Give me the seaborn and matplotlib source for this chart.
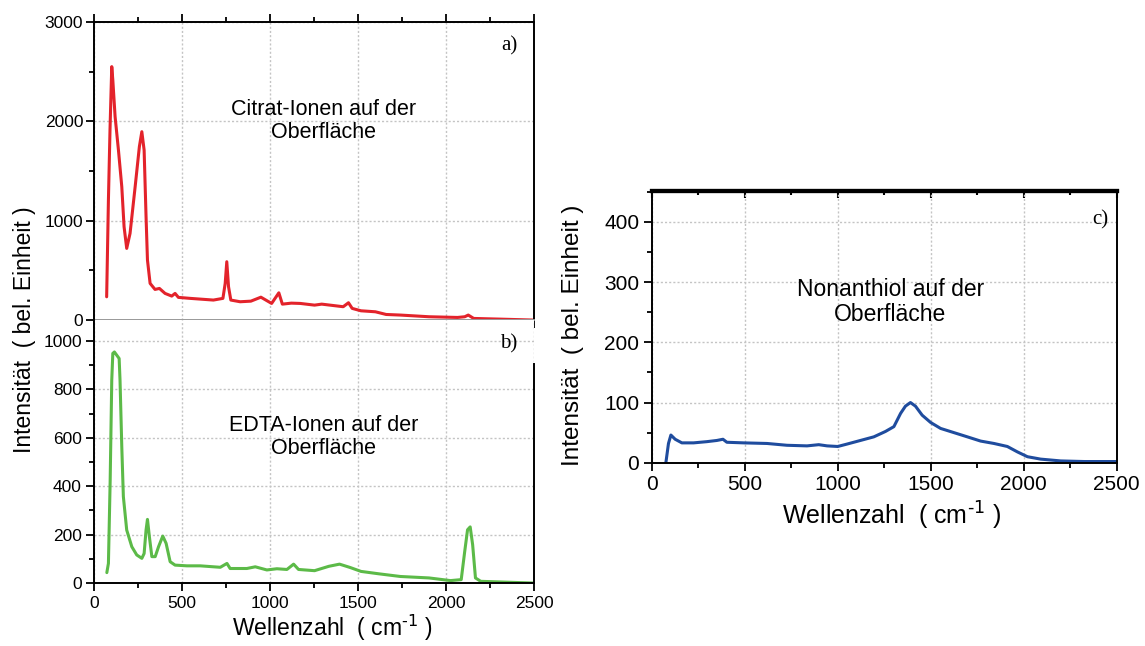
import numpy as np
import pandas as pd
import matplotlib
matplotlib.use("Agg")
import matplotlib.pyplot as plt
from matplotlib.ticker import MultipleLocator
import seaborn as sns

# Raman spectra: wavenumber (cm^-1) and intensity (arb. units)
citrat_wn = [70, 80, 89, 99, 105, 118, 137, 156, 169, 184, 203, 232, 256, 270, 283, 294,
             302, 317, 345, 370, 402, 440, 459, 478, 545, 677, 731, 744, 753, 763, 776,
             829, 890, 947, 1008, 1049, 1069, 1120, 1171, 1252, 1293, 1415, 1445, 1466,
             1516, 1598, 1659, 1740, 1903, 2065, 2106, 2126, 2157, 2309, 2492]
citrat_int = [234, 1208, 1913, 2551, 2416, 2047, 1711, 1342, 939, 721, 872, 1342, 1745, 1896,
              1711, 1040, 604, 369, 308, 318, 268, 241, 268, 228, 218, 201, 218, 369, 587,
              335, 201, 184, 190, 230, 167, 274, 160, 170, 167, 150, 160, 134, 174, 117,
              93, 83, 56, 50, 33, 26, 33, 50, 16, 9, 0]

edta_wn = [71, 80, 90, 99, 105, 114, 127, 141, 146, 156, 165, 184, 213, 241, 270, 283, 294,
           302, 313, 327, 346, 365, 389, 408, 431, 459, 526, 602, 716, 754, 772, 867, 915,
           981, 1038, 1095, 1133, 1161, 1252, 1333, 1394, 1455, 1516, 1618, 1740, 1903,
           2025, 2086, 2106, 2122, 2137, 2151, 2167, 2197, 2492]
edta_int = [43, 81, 425, 838, 949, 955, 942, 928, 838, 563, 357, 219, 150, 116, 102, 122, 219,
            263, 191, 109, 109, 150, 194, 164, 88, 74, 71, 71, 65, 81, 60, 60, 67, 54, 59,
            56, 78, 56, 51, 69, 78, 64, 48, 38, 27, 21, 10, 14, 131, 220, 232, 158, 21, 7, 0]

nonan_wn = [76, 90, 103, 126, 162, 225, 296, 350, 383, 404, 494, 620, 727, 835, 898, 943,
            1000, 1050, 1122, 1194, 1257, 1302, 1338, 1364, 1391, 1418, 1454, 1499, 1553,
            1625, 1697, 1768, 1840, 1912, 1966, 2020, 2091, 2199, 2325, 2500]
nonan_int = [0, 32, 46, 39, 33, 33, 35, 37, 39, 34, 33, 32, 29, 28, 30, 28, 27, 31, 37, 43,
             52, 60, 82, 94, 100, 94, 79, 67, 57, 50, 43, 36, 32, 27, 18, 10, 6, 3, 2, 2]

panel_labels = ["a)", "b)", "c)"]
captions = ["Citrat-Ionen auf der\nOberfläche",
            "EDTA-Ionen auf der\nOberfläche",
            "Nonanthiol auf der\nOberfläche"]
y_title = "Intensität  ( bel. Einheit )"
x_title = r"Wellenzahl  ( cm$^{\text{-1}}$ )"

sns.set_theme(style="white")
plt.rcParams["font.family"] = ["Liberation Sans", "DejaVu Sans"]
plt.rcParams["mathtext.default"] = "regular"
plt.rcParams["text.color"] = "black"
plt.rcParams["xtick.color"] = "black"
plt.rcParams["ytick.color"] = "black"

RED, GREEN, BLUE = "#e3232b", "#5cba48", "#1f4c9e"

fig = plt.figure(figsize=(11.45, 6.46), dpi=100)
ax_a = fig.add_axes([0.0824, 0.5046, 0.3840, 0.4613])
ax_b = fig.add_axes([0.0824, 0.0975, 0.3840, 0.4071])
ax_c = fig.add_axes([0.5692, 0.2837, 0.4061, 0.4211])

spectra = [
    (ax_a, citrat_wn, citrat_int, RED),
    (ax_b, edta_wn, edta_int, GREEN),
    (ax_c, nonan_wn, nonan_int, BLUE),
]
for ax, wn, inten, col in spectra:
    df = pd.DataFrame({"wn": wn, "int": inten})
    sns.lineplot(data=df, x="wn", y="int", ax=ax, color=col, lw=2.2,
                 estimator=None, sort=False)
    ax.set_xlim(0, 2500)
    ax.set_xlabel("")
    ax.set_ylabel("")
    ax.xaxis.set_major_locator(MultipleLocator(500))
    ax.xaxis.set_minor_locator(MultipleLocator(250))
    ax.grid(True, which="major", ls=(0, (1.5, 1.5)), color="#c4c4c4", lw=1)
    for s in ax.spines.values():
        s.set_color("black")
        s.set_linewidth(1.4)
    ax.tick_params(which="both", direction="out", colors="black", width=1.3,
                   bottom=True, left=True)
    ax.tick_params(which="major", length=6)
    ax.tick_params(which="minor", length=3.5)

# a) citrate
ax_a.set_ylim(0, 3000)
ax_a.yaxis.set_major_locator(MultipleLocator(1000))
ax_a.yaxis.set_minor_locator(MultipleLocator(500))
ax_a.tick_params(axis="x", which="both", top=True, labelbottom=False)
ax_a.tick_params(axis="both", labelsize=12.5, pad=2)
ax_a.spines["bottom"].set_color("#999999")

# b) EDTA
ax_b.set_ylim(0, 1087)
ax_b.yaxis.set_major_locator(MultipleLocator(200))
ax_b.yaxis.set_minor_locator(MultipleLocator(100))
ax_b.spines["top"].set_visible(False)
ax_b.spines["right"].set_bounds(0, 905)
ax_b.tick_params(axis="both", labelsize=12.5, pad=3)

# c) nonanethiol
ax_c.set_ylim(0, 452)
ax_c.yaxis.set_major_locator(MultipleLocator(100))
ax_c.yaxis.set_minor_locator(MultipleLocator(50))
ax_c.tick_params(axis="both", labelsize=15, pad=3)
ax_c.spines["top"].set_linewidth(3)
top_c = ax_c.secondary_xaxis("top")
top_c.xaxis.set_major_locator(MultipleLocator(500))
top_c.xaxis.set_minor_locator(MultipleLocator(250))
top_c.tick_params(which="both", direction="in", labeltop=False, width=1.5,
                  colors="black")
top_c.tick_params(which="major", length=5)
top_c.tick_params(which="minor", length=3)
top_c.spines["top"].set_linewidth(3)
top_c.spines["top"].set_color("black")

# panel letters and captions
for ax, lab, (x, y) in zip([ax_a, ax_b, ax_c], panel_labels,
                           [(0.962, 0.92), (0.962, 0.91), (0.982, 0.892)]):
    ax.text(x, y, lab, transform=ax.transAxes, ha="right", va="center",
            family=["Liberation Serif", "DejaVu Serif"], fontsize=15)

ax_a.text(1302, 2004, captions[0], ha="center", va="center", fontsize=15.5,
          linespacing=1.15)
ax_b.text(1302, 603, captions[1], ha="center", va="center", fontsize=15.5,
          linespacing=1.15)
ax_c.text(1283, 267, captions[2], ha="center", va="center", fontsize=16.5,
          linespacing=1.15)

# axis titles
fig.text(25 / 1145, 1 - 330 / 646, y_title, rotation=90, ha="center",
         va="center", fontsize=16.5)
fig.text(332 / 1145, 1 - 628 / 646, x_title, ha="center", va="center",
         fontsize=16.5)
fig.text(573 / 1145, 1 - 335 / 646, y_title, rotation=90, ha="center",
         va="center", fontsize=17.5)
fig.text(891 / 1145, 1 - 516 / 646, x_title, ha="center", va="center",
         fontsize=18)

fig.savefig("out.png", dpi=100, facecolor="white")
